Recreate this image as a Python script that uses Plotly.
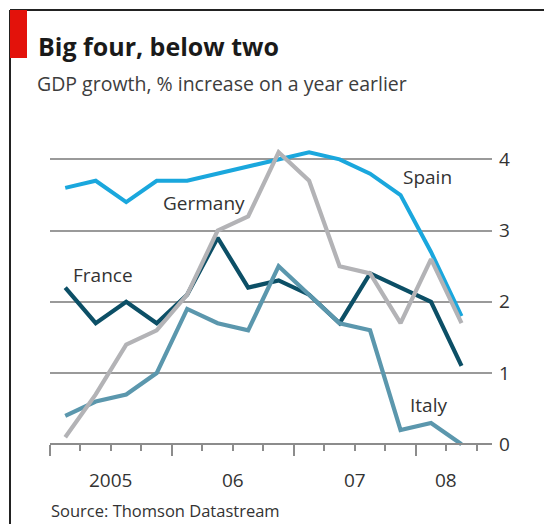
import plotly.graph_objects as go

# ---- data ----
quarters = ["2005Q1", "2005Q2", "2005Q3", "2005Q4",
            "2006Q1", "2006Q2", "2006Q3", "2006Q4",
            "2007Q1", "2007Q2", "2007Q3", "2007Q4",
            "2008Q1", "2008Q2"]
spain   = [3.6, 3.7, 3.4, 3.7, 3.7, 3.8, 3.9, 4.0, 4.1, 4.0, 3.8, 3.5, 2.7, 1.8]
germany = [0.1, 0.7, 1.4, 1.6, 2.1, 3.0, 3.2, 4.1, 3.7, 2.5, 2.4, 1.7, 2.6, 1.7]
france  = [2.2, 1.7, 2.0, 1.7, 2.1, 2.9, 2.2, 2.3, 2.1, 1.7, 2.4, 2.2, 2.0, 1.1]
italy   = [0.4, 0.6, 0.7, 1.0, 1.9, 1.7, 1.6, 2.5, 2.1, 1.7, 1.6, 0.2, 0.3, 0.0]
year_labels = ["2005", "06", "07", "08"]
year_label_pos = [2, 6, 10, 13]          # quarter-boundary index under each label
y_ticks = [0, 1, 2, 3, 4]

xq = [i + 0.5 for i in range(len(quarters))]  # quarter midpoints

# ---- layout geometry (pixels) ----
W, H = 544, 524
L, R, T, B = 50, 52, 138, 74
YMIN, YMAX = -0.08, 4.3
PW, PH = W - L - R, H - T - B

def xp(px):
    return (px - L) / PW

def yp(py):
    return (H - B - py) / PH

FONT = "Open Sans"
TXT = "#333333"

fig = go.Figure()

series = [
    ("Spain", spain, "#1aa7dd", 4),
    ("France", france, "#0c4f66", 4.2),
    ("Italy", italy, "#5b97ad", 4.2),
    ("Germany", germany, "#b3b3b6", 4.2),
]
for name, vals, col, w in series:
    fig.add_trace(go.Scatter(x=xq, y=vals, mode="lines", name=name,
                             line=dict(color=col, width=w),
                             hoverinfo="skip", showlegend=False))

fig.update_layout(
    width=W, height=H,
    margin=dict(l=L, r=R, t=T, b=B, pad=0),
    paper_bgcolor="white", plot_bgcolor="white",
    font=dict(family=FONT, color=TXT),
    xaxis=dict(range=[0, len(quarters) + 0.5], anchor="free",
               position=(0 - YMIN) / (YMAX - YMIN),
               showgrid=False, zeroline=False,
               showline=True, linecolor="#8c8c8c", linewidth=2,
               tickmode="linear", tick0=0, dtick=4,
               ticks="outside", ticklen=11, tickwidth=1.5, tickcolor="#8c8c8c",
               showticklabels=False,
               minor=dict(ticks="outside", tick0=0, dtick=1, ticklen=6,
                          tickwidth=1.5, tickcolor="#8c8c8c", showgrid=False),
               fixedrange=True),
    yaxis=dict(range=[YMIN, YMAX], side="right", tickvals=y_ticks,
               ticktext=[str(v) for v in y_ticks],
               showgrid=True, gridcolor="#9a9a9a", gridwidth=2,
               zeroline=False, showline=False, ticks="",
               ticklabelstandoff=6,
               tickfont=dict(size=19, color=TXT, family=FONT),
               fixedrange=True),
)

ann = []
# year labels
for lab, pos in zip(year_labels, year_label_pos):
    ann.append(dict(x=pos, y=yp(480), xref="x", yref="paper", text=lab,
                    showarrow=False, xanchor="center", yanchor="middle",
                    font=dict(size=19, color=TXT, family=FONT)))
# series labels
for text, cx, cy in [("Spain", 427, 177), ("Germany", 203.5, 203),
                     ("France", 103, 275), ("Italy", 428.5, 405)]:
    ann.append(dict(x=xp(cx), y=yp(cy), xref="paper", yref="paper", text=text,
                    showarrow=False, xanchor="center", yanchor="middle",
                    font=dict(size=19, color=TXT, family=FONT)))
# title / subtitle / source
ann.append(dict(x=xp(36), y=yp(46), xref="paper", yref="paper",
                text="<b>Big four, below two</b>", showarrow=False,
                xanchor="left", yanchor="middle",
                font=dict(size=25, color="#1a1a1a", family=FONT)))
ann.append(dict(x=xp(35), y=yp(84), xref="paper", yref="paper",
                text="GDP growth, % increase on a year earlier", showarrow=False,
                xanchor="left", yanchor="middle",
                font=dict(size=19.5, color="#3d3d3d", family=FONT)))
ann.append(dict(x=xp(49), y=yp(510), xref="paper", yref="paper",
                text="Source: Thomson Datastream", showarrow=False,
                xanchor="left", yanchor="middle",
                font=dict(size=16.5, color=TXT, family=FONT)))
fig.update_layout(annotations=ann)

shapes = [
    # frame: top and left
    dict(type="line", xref="paper", yref="paper", x0=xp(10), x1=xp(W + 5),
         y0=yp(10), y1=yp(10), line=dict(color="#222222", width=2)),
    dict(type="line", xref="paper", yref="paper", x0=xp(10), x1=xp(10),
         y0=yp(10), y1=yp(H + 5), line=dict(color="#222222", width=2)),
    # red tag
    dict(type="rect", xref="paper", yref="paper", x0=xp(10), x1=xp(27),
         y0=yp(10), y1=yp(58), fillcolor="#e3120b", line=dict(width=0)),
]
fig.update_layout(shapes=shapes)

fig.write_html("out.html")
